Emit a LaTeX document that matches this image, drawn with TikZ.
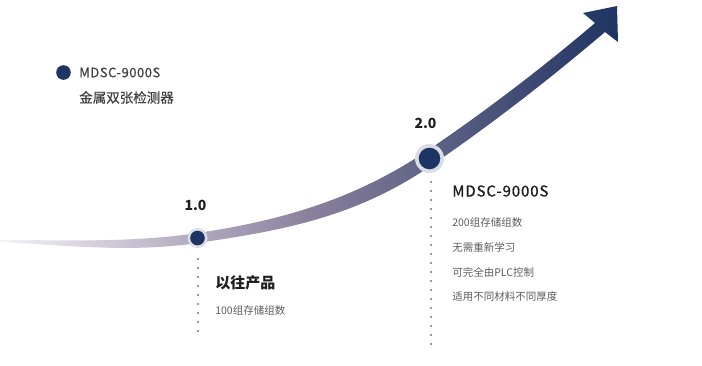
\documentclass[tikz,border=0pt]{standalone}
\usepackage{fontspec}
\newfontfamily\cjk{Noto Sans CJK SC}
\definecolor{navy}{HTML}{1E3462}
\definecolor{halo}{HTML}{DADDE6}
\definecolor{midtone}{HTML}{8A809E}
\definecolor{pale}{HTML}{F4F3F7}
\definecolor{ink}{HTML}{1E1E1E}
\definecolor{greytext}{HTML}{5C5C5C}
\tikzset{
  version/.style={font=\cjk\bfseries\fontsize{14}{16}\selectfont, text=ink, inner sep=0pt},
  headline/.style={anchor=west, font=\cjk\fontsize{15}{18}\selectfont, text=ink, inner sep=0pt},
  feature/.style={anchor=west, font=\cjk\fontsize{10.5}{12}\selectfont, text=greytext, inner sep=0pt},
  dotline/.style={navy, line width=1.8pt, line cap=round, dash pattern=on 0pt off 9pt},
}
\begin{document}
\begin{tikzpicture}[x=1pt, y=-1pt, line width=0.6pt]
  \useasboundingbox (0,0) rectangle (702,365);
  \coordinate (P1) at (197.5,238); \coordinate (P2) at (429.5,158.5);
  % curved arrow
  \shade[left color=pale, right color=navy, middle color=midtone]
    (0,240) .. controls (65.8,240) and (131.7,242.9) .. (197.5,233)
    .. controls (274.7,221.4) and (351.8,202) .. (429,149.5)
    .. controls (484.3,111.9) and (539.7,70) .. (595,23)
    -- (583,13) -- (617,6) -- (618,42) -- (605,32)
    .. controls (546.3,81.9) and (487.7,127.1) .. (429,167)
    .. controls (351.8,219.5) and (274.7,231.4) .. (197.5,243)
    .. controls (131.7,252.9) and (65.8,245.3) .. (0,242) -- cycle;
  % version points
  \fill[halo] (P1) circle[radius=10];
  \fill[navy] (P1) circle[radius=7.3];
  \fill[halo] (P2) circle[radius=14.5];
  \fill[navy] (P2) circle[radius=10.8];
  \draw[dotline] (198,259) -- (198,333);
  \draw[dotline] (431,182) -- (431,348);
  \node[version] (v1) at (195.5,205.5) {1.0};
  \node[version] (v2) at (425.5,123.5) {2.0};
  % old product
  \node[headline, font=\cjk\bfseries\fontsize{15}{18}\selectfont] (old) at (215,283) {以往产品};
  \node[feature] (oldA) at (215,311) {100组存储组数};
  % new product
  \node[headline, font=\cjk\addfontfeature{LetterSpace=6,FakeBold=0.8}\fontsize{15}{18}\selectfont] (new) at (452,191) {MDSC-9000S};
  \node[feature] (newA) at (452,223) {200组存储组数};
  \node[feature] (newB) at (452,247.5) {无需重新学习};
  \node[feature] (newC) at (452,272) {可完全由PLC控制};
  \node[feature] (newD) at (452,297) {适用不同材料不同厚度};
  % legend
  \fill[navy] (63.5,72.5) circle[radius=7.3];
  \node[headline, font=\cjk\addfontfeature{LetterSpace=4,FakeBold=0.4}\fontsize{13}{16}\selectfont, text=ink!85] (key) at (79,72.5) {MDSC-9000S};
  \node[headline, font=\cjk\addfontfeature{FakeBold=0.3}\fontsize{13.5}{16}\selectfont, text=ink!85] (keyB) at (79,97.5) {金属双张检测器};
\end{tikzpicture}
\end{document}
